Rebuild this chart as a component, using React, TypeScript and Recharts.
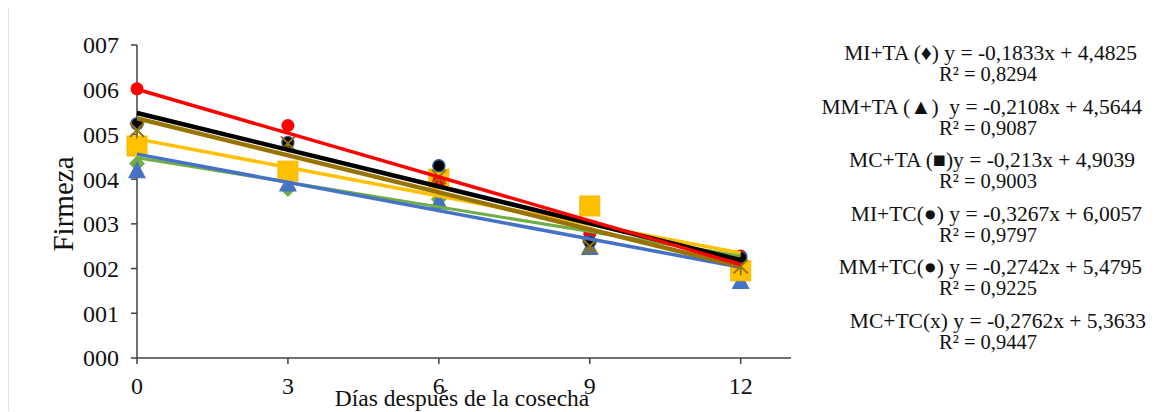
import { ComposedChart, Scatter, XAxis, YAxis } from 'recharts';

// days after harvest
const days = [0, 3, 6, 9, 12];

// firmness readings per treatment
const miTA = [4.35, 3.78, 3.55, 2.6, 1.85];
const mmTA = [4.2, 3.9, 3.5, 2.48, 1.72];
const mcTA = [4.74, 4.18, 4.0, 3.4, 1.95];
const miTC = [6.02, 5.2, 3.95, 2.78, 2.28];
const mmTC = [5.24, 4.82, 4.3, 2.6, 2.25];
const mcTC = [5.1, 4.8, 4.05, 2.5, 2.05];

// trendline values at day 0 and day 12 (from the equations)
const trendDays = [0, 12];
const trendMiTA = [4.48, 2.28];
const trendMmTA = [4.56, 2.03];
const trendMcTA = [4.9, 2.35];
const trendMiTC = [6.01, 2.09];
const trendMmTC = [5.48, 2.19];
const trendMcTC = [5.36, 2.05];

const yTicks = [0, 1, 2, 3, 4, 5, 6, 7];
const xTicks = [0, 3, 6, 9, 12];

const equations = [
  { eq: 'MI+TA (♦) y = -0,1833x + 4,4825', r2: 'R² = 0,8294', right: 21, y: 52 },
  { eq: 'MM+TA (▲)  y = -0,2108x + 4,5644', r2: 'R² = 0,9087', right: 16, y: 106 },
  { eq: 'MC+TA (■)y = -0,213x + 4,9039', r2: 'R² = 0,9003', right: 23, y: 159 },
  { eq: 'MI+TC(●) y = -0,3267x + 6,0057', r2: 'R² = 0,9797', right: 16, y: 213 },
  { eq: 'MM+TC(●) y = -0,2742x + 5,4795', r2: 'R² = 0,9225', right: 16, y: 266 },
  { eq: 'MC+TC(x) y = -0,2762x + 5,3633', r2: 'R² = 0,9447', right: 12, y: 320 },
];

const toPoints = (xs: number[], ys: number[]) => xs.map((x, i) => ({ x, y: ys[i] }));

const font = '"Liberation Serif", "Times New Roman", serif';

const XTick = ({ x, y, payload }: any) => (
  <text x={x} y={y} dy="0.71em" textAnchor="middle" fontSize={24} fontFamily={font} fill="#111">
    {payload.value}
  </text>
);
const YTick = ({ x, y, payload }: any) => (
  <text x={x} y={y} dy="0.35em" textAnchor="end" fontSize={24} fontFamily={font} fill="#111">
    {`00${payload.value}`}
  </text>
);

const Diamond = ({ cx, cy }: any) => (
  <path d={`M${cx},${cy - 8} L${cx + 8},${cy} L${cx},${cy + 8} L${cx - 8},${cy} Z`} fill="#70AD47" />
);
const Triangle = ({ cx, cy }: any) => (
  <path d={`M${cx},${cy - 9} L${cx + 9},${cy + 8} L${cx - 9},${cy + 8} Z`} fill="#4472C4" />
);
const Square = ({ cx, cy }: any) => (
  <rect x={cx - 10} y={cy - 10} width={20} height={20} fill="#FFC000" stroke="#F5B800" />
);
const RedDot = ({ cx, cy }: any) => <circle cx={cx} cy={cy} r={6.5} fill="#FF0000" />;
const NavyDot = ({ cx, cy }: any) => (
  <circle cx={cx} cy={cy} r={6} fill="#000" stroke="#2F5597" strokeWidth={1.5} />
);
const Star = ({ cx, cy }: any) => (
  <g stroke="#997300" strokeWidth={2}>
    <line x1={cx - 7} y1={cy - 7} x2={cx + 7} y2={cy + 7} />
    <line x1={cx - 7} y1={cy + 7} x2={cx + 7} y2={cy - 7} />
    <line x1={cx} y1={cy} x2={cx} y2={cy + 9} />
  </g>
);
const NoDot = () => <g />;

export default function App() {
  return (
    <div
      style={{
        position: 'relative',
        width: 1149,
        height: 404,
        marginTop: -2,
        borderLeft: '1px solid #dde1e6',
        borderTop: '1px solid #dde1e6',
        fontFamily: font,
        color: '#111',
        overflow: 'hidden',
      }}
    >
      <ComposedChart
        width={800}
        height={404}
        margin={{ top: 38, right: 18, left: 68, bottom: 23 }}
      >
        <XAxis
          dataKey="x"
          type="number"
          domain={[0, 13]}
          ticks={xTicks}
          tickSize={6}
          tickMargin={13}
          stroke="#404040"
          strokeWidth={1.5}
          tick={<XTick />}
          height={30}
        />
        <YAxis
          dataKey="y"
          type="number"
          domain={[0, 7]}
          ticks={yTicks}
          width={60}
          tickSize={6}
          tickMargin={12}
          stroke="#404040"
          strokeWidth={1.5}
          tick={<YTick />}
        />

        <Scatter data={toPoints(days, miTA)} shape={Diamond} isAnimationActive={false} />
        <Scatter data={toPoints(days, mmTA)} shape={Triangle} isAnimationActive={false} />
        <Scatter data={toPoints(days, mcTA)} shape={Square} isAnimationActive={false} />
        <Scatter data={toPoints(days, miTC)} shape={RedDot} isAnimationActive={false} />
        <Scatter data={toPoints(days, mmTC)} shape={NavyDot} isAnimationActive={false} />
        <Scatter data={toPoints(days, mcTC)} shape={Star} isAnimationActive={false} />

        <Scatter data={toPoints(trendDays, trendMiTA)} line={{ stroke: '#70AD47', strokeWidth: 3 }} shape={NoDot} isAnimationActive={false} />
        <Scatter data={toPoints(trendDays, trendMmTA)} line={{ stroke: '#4472C4', strokeWidth: 3.5 }} shape={NoDot} isAnimationActive={false} />
        <Scatter data={toPoints(trendDays, trendMcTA)} line={{ stroke: '#FFC000', strokeWidth: 3.5 }} shape={NoDot} isAnimationActive={false} />
        <Scatter data={toPoints(trendDays, trendMcTC)} line={{ stroke: '#997300', strokeWidth: 4.5 }} shape={NoDot} isAnimationActive={false} />
        <Scatter data={toPoints(trendDays, trendMmTC)} line={{ stroke: '#000000', strokeWidth: 4.5 }} shape={NoDot} isAnimationActive={false} />
        <Scatter data={toPoints(trendDays, trendMiTC)} line={{ stroke: '#FF0000', strokeWidth: 3.5 }} shape={NoDot} isAnimationActive={false} />
      </ComposedChart>

      <div
        style={{
          position: 'absolute',
          left: 54,
          top: 197,
          transform: 'translate(-50%, -50%) rotate(-90deg)',
          fontSize: 29,
          whiteSpace: 'nowrap',
        }}
      >
        Firmeza
      </div>
      <div
        style={{
          position: 'absolute',
          left: 453,
          top: 391,
          transform: 'translate(-50%, -50%)',
          fontSize: 23.5,
          lineHeight: '24px',
          whiteSpace: 'nowrap',
        }}
      >
        Días después de la cosecha
      </div>

      {equations.map((e) => (
        <div key={e.eq}>
          <div
            style={{
              position: 'absolute',
              right: e.right,
              top: e.y - 17,
              fontSize: 21.5,
              whiteSpace: 'pre',
              lineHeight: '22px',
            }}
          >
            {e.eq}
          </div>
          <div
            style={{
              position: 'absolute',
              left: 979,
              top: e.y + 4,
              transform: 'translateX(-50%)',
              fontSize: 20.5,
              whiteSpace: 'nowrap',
              lineHeight: '22px',
            }}
          >
            {e.r2}
          </div>
        </div>
      ))}
    </div>
  );
}
